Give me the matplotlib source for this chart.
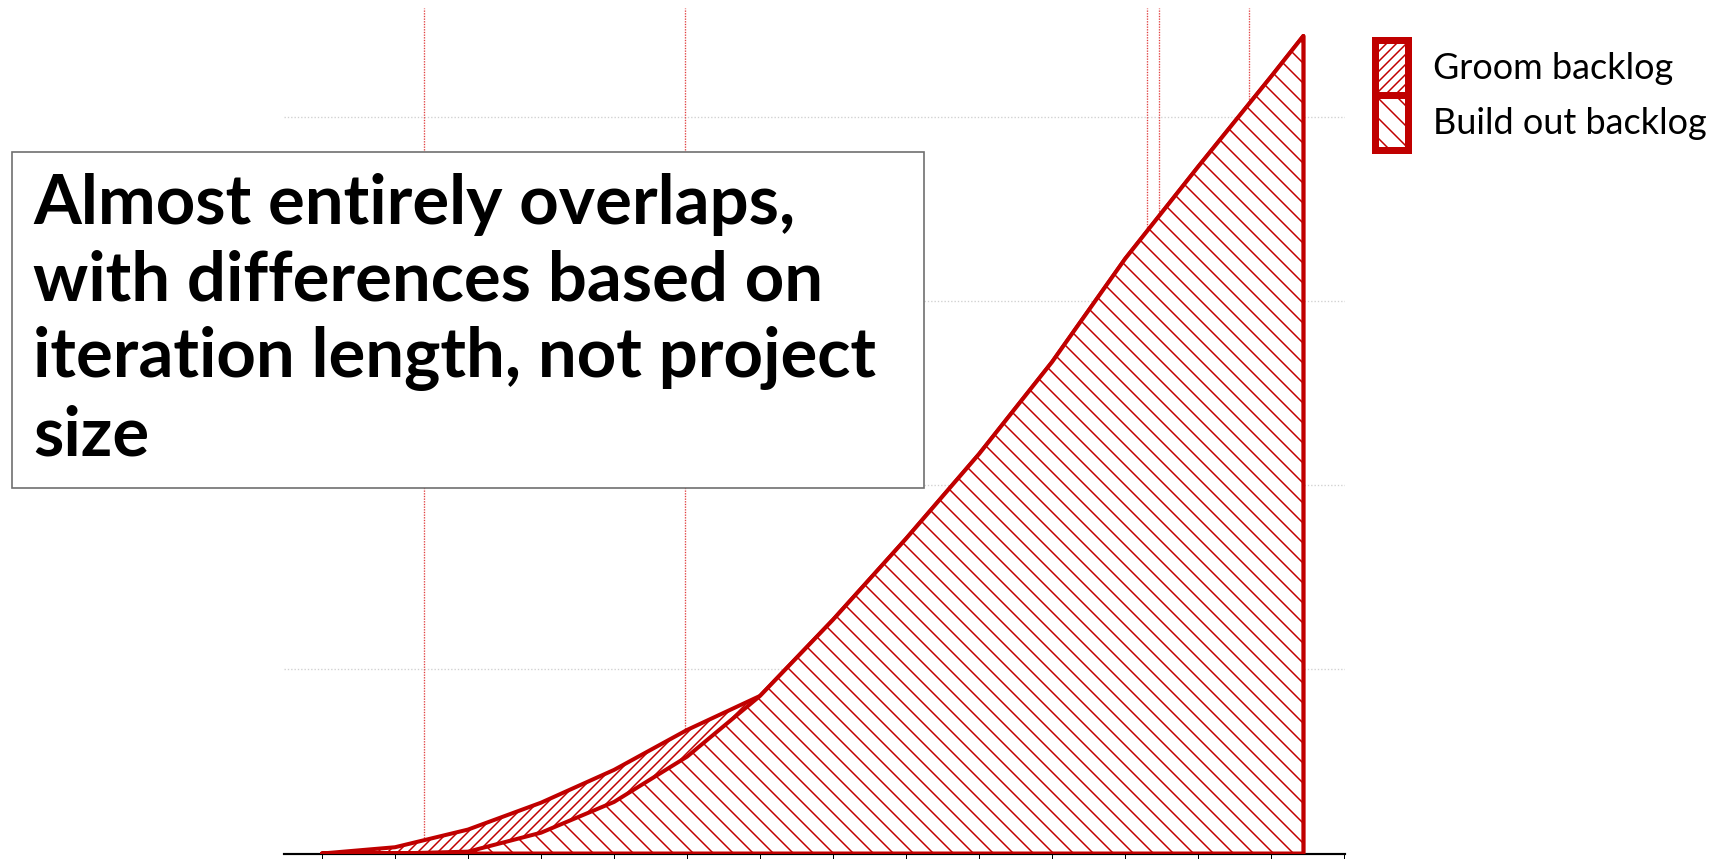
import matplotlib.pyplot as plt
from matplotlib.patches import Patch, Rectangle

# category positions (iterations), last point falls between two ticks
iterations = [0, 1, 2, 3, 4, 5, 6, 7, 8, 9, 10, 11, 12, 13, 13.44]
groom_backlog = [0, 0.034, 0.13, 0.276, 0.454, 0.671, 0.856, 1.27, 1.71, 2.17, 2.67, 3.23, 3.73, 4.22, 4.44]
build_backlog = [0, 0, 0.01, 0.113, 0.28, 0.526, 0.856, 1.27, 1.71, 2.17, 2.67, 3.23, 3.73, 4.22, 4.44]
markers_x = [1.40, 4.97, 11.30, 11.46, 12.70]
tick_positions = list(range(15))
labels = ["Groom backlog", "Build out backlog"]
note = "Almost entirely overlaps,\nwith differences based on\niteration length, not project\nsize"

red = "#c00000"
plt.rcParams['hatch.linewidth'] = 0.9

W, H, DPI = 1715, 859, 120
fig = plt.figure(figsize=(W / DPI, H / DPI), dpi=DPI)
ax = fig.add_axes([284 / W, 1 - 853.5 / H, (1345 - 284) / W, (853.5 - 8.3) / H])

ax.set_xlim(-0.52, 14.01)
ax.set_ylim(0, 4.59)

# background grid and markers
for g in [1, 2, 3, 4]:
    ax.axhline(g, color="#d0d0d0", lw=0.8, ls=(0, (1, 1.5)), zorder=0)
for mx in markers_x:
    ax.axvline(mx, color="#e04040", lw=0.8, ls=(0, (1, 1)), zorder=0)

ax.fill_between(iterations, groom_backlog, 0, facecolor="white", edgecolor=red,
                hatch="////", lw=2.4, zorder=2)
ax.fill_between(iterations, build_backlog, 0, facecolor="white", edgecolor=red,
                hatch="\\\\", lw=2.4, zorder=3)

for s in ["left", "right", "top"]:
    ax.spines[s].set_visible(False)
ax.spines["bottom"].set_color("black")
ax.spines["bottom"].set_linewidth(1.3)
ax.spines["bottom"].set_zorder(1)
ax.set_yticks([])
ax.set_xticks(tick_positions)
ax.set_xticklabels([])
ax.tick_params(axis="x", length=3.5, width=0.6, color="black", direction="out")

handles = [Patch(facecolor="white", edgecolor=red, hatch="////", lw=4.2),
           Patch(facecolor="white", edgecolor=red, hatch="\\\\", lw=4.2)]
fig.legend(handles, labels, loc="upper left", bbox_to_anchor=(1375 / W, 1 - 40 / H),
           frameon=False, borderpad=0, borderaxespad=0, labelspacing=0,
           handlelength=0.92, handleheight=1.98, handletextpad=0.68,
           prop={"family": "Lato", "size": 21.6})

# annotation box
box = Rectangle((12 / W, 1 - 488 / H), (924 - 12) / W, (488 - 152) / H,
                transform=fig.transFigure, facecolor="white", edgecolor="#707070",
                lw=1.0, zorder=5)
fig.patches.append(box)
# multi-line text with baseline alignment sits on the last line
fig.text(33 / W, 1 - 455 / H, note, ha="left", va="baseline", family="Lato",
         weight="bold", fontsize=41.3, linespacing=1.26, zorder=6)

fig.savefig("out.png", dpi=DPI)
